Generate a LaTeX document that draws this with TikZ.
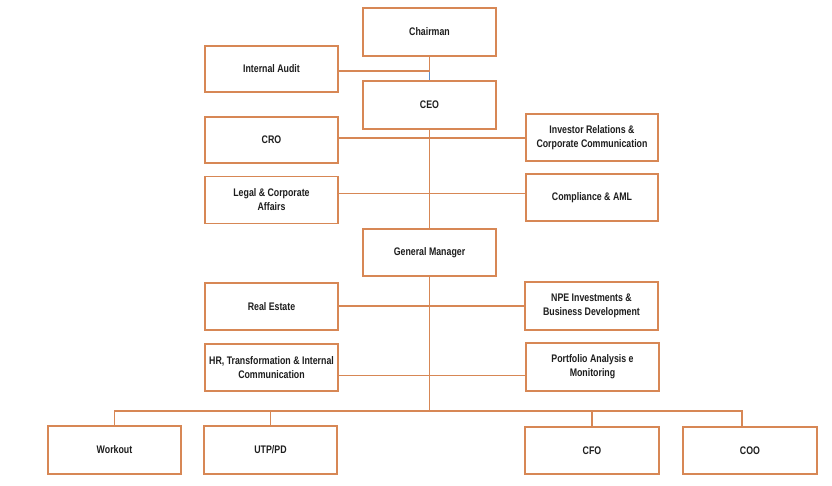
\documentclass[tikz,border=0pt]{standalone}
\usepackage{fontspec}
\setmainfont{Liberation Sans}[FakeStretch=0.8]
\definecolor{lineor}{RGB}{215,135,85}
\definecolor{lineblue}{RGB}{90,140,200}
\definecolor{txt}{RGB}{30,30,30}
\tikzset{
  box/.style={draw=lineor, line width=1.4pt, fill=white, minimum width=133pt, minimum height=47pt,
    inner sep=0pt, align=center, text=txt, font=\bfseries\fontsize{11}{14}\selectfont},
  conn/.style={draw=lineor, line width=1.4pt},
  connblue/.style={draw=lineblue, line width=1.4pt}
}
\begin{document}
\begin{tikzpicture}[x=1pt,y=-1pt]
\useasboundingbox[fill=white] (0,0) rectangle (832,486);
% nodes
\node[box, minimum height=48pt] (chair) at (429.5,32) {Chairman};
\node[box, minimum height=46pt] (audit) at (271.5,69) {Internal Audit};
\node[box, minimum height=48pt] (ceo) at (429.5,105) {CEO};
\node[box, minimum height=46pt] (cro) at (271.5,140) {CRO};
\node[box, minimum width=132pt] (inv) at (592,137.5) {Investor Relations \&\\Corporate Communication};
\node[box] (legal) at (271.5,200) {Legal \& Corporate\\Affairs};
\node[box, minimum width=132pt] (comp) at (592,197.5) {Compliance \& AML};
\node[box] (gm) at (429.5,252.5) {General Manager};
\node[box] (re) at (271.5,306.5) {Real Estate};
\node[box, minimum height=48pt] (npe) at (591.5,306) {NPE Investments \&\\Business Development};
\node[box] (hr) at (271.5,367.5) {HR, Transformation \& Internal\\Communication};
\node[box, minimum height=48pt] (port) at (592.5,367) {Portfolio Analysis e\\Monitoring};
\node[box, minimum height=48pt] (work) at (114.5,450) {Workout};
\node[box, minimum height=48pt] (utp) at (270.5,450) {UTP/PD};
\node[box, minimum width=134pt] (cfo) at (592,450.5) {CFO};
\node[box, minimum width=134pt] (coo) at (750,450.5) {COO};
% junction coordinates
\coordinate (jA) at (429.5,71);
\coordinate (bus) at (429.5,411);
\coordinate (cooTop) at (742,427);
% connectors
\draw[conn] (chair.south) -- (jA);
\draw[connblue] (jA) -- (ceo.north);
\draw[conn] (audit.east |- jA) -- (jA);
\draw[conn] (ceo.south) -- (gm.north);
\draw[conn] (cro.east |- 0,138) -- (inv.west |- 0,138);
\draw[conn] (legal.east |- 0,193.5) -- (comp.west |- 0,193.5);
\draw[conn] (gm.south) -- (bus);
\draw[conn] (re.east |- 0,306) -- (npe.west |- 0,306);
\draw[conn] (hr.east |- 0,375.5) -- (port.west |- 0,375.5);
\draw[conn] (work.north) -- (work.north |- bus) -- (cooTop |- bus) -- (cooTop);
\draw[conn] (utp.north) -- (utp.north |- bus);
\draw[conn] (cfo.north) -- (cfo.north |- bus);
\end{tikzpicture}
\end{document}
